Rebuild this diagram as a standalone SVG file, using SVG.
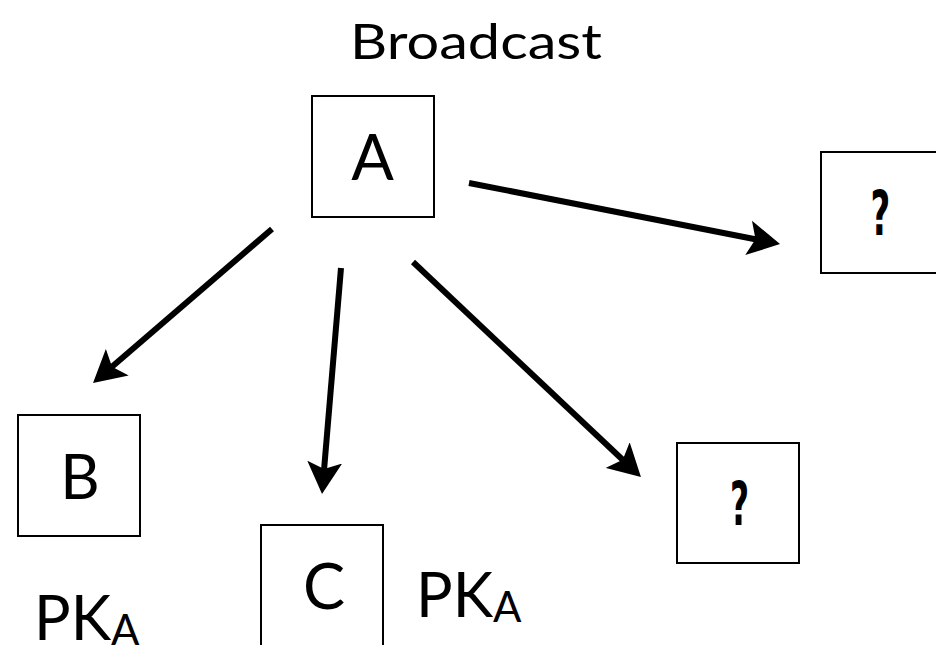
<svg xmlns="http://www.w3.org/2000/svg" width="936" height="645" viewBox="0 0 936 645">
  <style>
    .box { fill: #fff; stroke: #000; stroke-width: 2; }
    .lbl { font-family: Lato, "Liberation Sans", sans-serif; fill: #000; }
    .q { font-family: "DejaVu Sans", sans-serif; font-weight: bold; fill: #000; }
    .edge { stroke: #000; stroke-width: 6; fill: none; marker-end: url(#head); }
  </style>
  <defs>
    <marker id="head" markerUnits="userSpaceOnUse" viewBox="0 0 32 36" markerWidth="32" markerHeight="36" refX="12" refY="18" orient="auto">
      <path d="M0,0.5 L32,18 L0,35.5 L7,18 Z" fill="#000"/>
    </marker>
  </defs>
  <rect width="936" height="645" fill="#fff"/>

  <text class="lbl" x="476" y="59" font-size="48" text-anchor="middle" textLength="252" lengthAdjust="spacingAndGlyphs">Broadcast</text>

  <g id="node-a">
    <rect class="box" x="312" y="96" width="122" height="121"/>
    <text class="lbl" x="372.5" y="180" font-size="63" text-anchor="middle">A</text>
  </g>
  <g id="node-unknown-right">
    <rect class="box" x="821" y="152" width="124" height="121"/>
    <text class="q" x="0" y="0" font-size="62" text-anchor="middle" transform="translate(880.5,235) scale(0.55,1)">?</text>
  </g>
  <g id="node-b">
    <rect class="box" x="18" y="415" width="122" height="121"/>
    <text class="lbl" x="80" y="499" font-size="61" text-anchor="middle">B</text>
    <text class="lbl" x="34" y="640" font-size="61">PK<tspan font-size="42" dy="5">A</tspan></text>
  </g>
  <g id="node-c">
    <rect class="box" x="261" y="525" width="122" height="130"/>
    <text class="lbl" x="324" y="609" font-size="63" text-anchor="middle">C</text>
    <text class="lbl" x="416" y="617" font-size="61">PK<tspan font-size="42" dy="5">A</tspan></text>
  </g>
  <g id="node-unknown-bottom">
    <rect class="box" x="677" y="443" width="122" height="120"/>
    <text class="q" x="0" y="0" font-size="60" text-anchor="middle" transform="translate(739.5,525) scale(0.55,1)">?</text>
  </g>

  <g id="connectors">
    <line class="edge" x1="272" y1="229" x2="108.2" y2="370"/>
    <line class="edge" x1="341" y1="268" x2="323.7" y2="474.1"/>
    <line class="edge" x1="413" y1="262" x2="626.4" y2="463.3"/>
    <line class="edge" x1="469" y1="183" x2="760.4" y2="240.2"/>
  </g>
</svg>
